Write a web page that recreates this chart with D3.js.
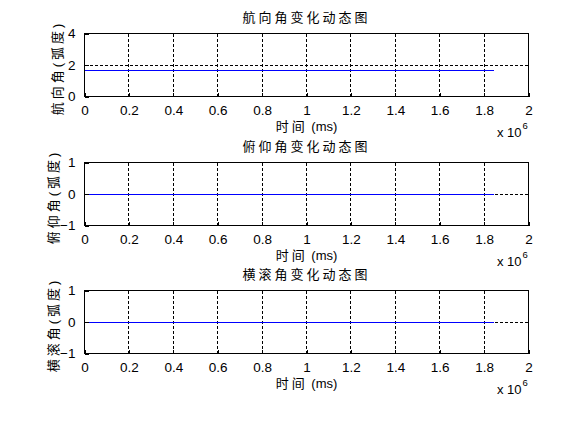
<!DOCTYPE html>
<html>
<head>
<meta charset="utf-8">
<script src="https://cdn.jsdelivr.net/npm/d3@7"></script>
<style>
  body { margin: 0; background: #fff; }
  text { font-family: "Liberation Sans", Arial, "Noto Sans CJK SC", sans-serif; fill: #000; }
  .cjk { font-family: "Liberation Sans", "Noto Sans CJK SC", sans-serif; letter-spacing: 3px; }
</style>
</head>
<body>
<div id="chart"></div>
<script>
// time samples (ms) and the three attitude angles (rad)
const timeMs = [0, 1845000];
const heading = [1.62, 1.62];
const pitch = [0, 0];
const roll = [0, 0];

const titles = ["航向角变化动态图", "俯仰角变化动态图", "横滚角变化动态图"];
const yLabels = ["航向角(弧度)", "俯仰角(弧度)", "横滚角(弧度)"];
const xLabelCjk = "时间";
const xLabelUnit = " (ms)";
const xTicks = [0, 0.2e6, 0.4e6, 0.6e6, 0.8e6, 1e6, 1.2e6, 1.4e6, 1.6e6, 1.8e6, 2e6];
const yTicksList = [[0, 2, 4], [-1, 0, 1], [-1, 0, 1]];
const yDomains = [[0, 4], [-1, 1], [-1, 1]];
const seriesList = [heading, pitch, roll];

const W = 582, H = 421;
const left = 84.5, right = 528.5, plotH = 63;
const tops = [33.5, 162.5, 290.5];

const svg = d3.select("#chart").append("svg")
  .attr("width", W).attr("height", H);

const x = d3.scaleLinear().domain([0, 2e6]).range([left, right]);

seriesList.forEach((vals, i) => {
  const top = tops[i], bottom = top + plotH;
  const y = d3.scaleLinear().domain(yDomains[i]).range([bottom, top]);
  const g = svg.append("g");

  // grid lines (dashed)
  g.selectAll(".gx").data(xTicks.slice(1, -1)).enter().append("line")
    .attr("x1", d => x(d)).attr("x2", d => x(d))
    .attr("y1", top).attr("y2", bottom)
    .attr("stroke", "#000").attr("stroke-dasharray", "3,2")
    .attr("shape-rendering", "crispEdges");
  g.selectAll(".gy").data(yTicksList[i].slice(1, -1)).enter().append("line")
    .attr("x1", left).attr("x2", right)
    .attr("y1", d => y(d)).attr("y2", d => y(d))
    .attr("stroke", "#000").attr("stroke-dasharray", "3,2")
    .attr("shape-rendering", "crispEdges");

  // data line
  const pts = timeMs.map((t, k) => [t, vals[k]]);
  g.append("path").datum(pts)
    .attr("fill", "none").attr("stroke", "#0000ff").attr("stroke-width", 1)
    .attr("shape-rendering", "crispEdges")
    .attr("d", d3.line().x(d => x(d[0])).y(d => y(d[1])));

  // axes (ticks pointing inward, labels outside)
  const xAxis = g.append("g").attr("transform", `translate(0,${bottom})`)
    .call(d3.axisBottom(x).tickValues(xTicks).tickSizeInner(-4).tickSizeOuter(0)
      .tickPadding(9).tickFormat(d => d3.format("~g")(d / 1e6)));
  const yAxis = g.append("g").attr("transform", `translate(${left},0)`)
    .call(d3.axisLeft(y).tickValues(yTicksList[i]).tickSizeInner(-4).tickSizeOuter(0)
      .tickPadding(9).tickFormat(d3.format("d")));
  [xAxis, yAxis].forEach(a => {
    a.select(".domain").remove();
    a.selectAll("line").attr("stroke", "#000").attr("shape-rendering", "crispEdges");
    a.selectAll("text").attr("font-size", 13.5)
      .attr("font-family", "'Liberation Sans', Arial, sans-serif");
  });

  // box
  g.append("rect")
    .attr("x", left).attr("y", top).attr("width", right - left).attr("height", plotH)
    .attr("fill", "none").attr("stroke", "#000").attr("shape-rendering", "crispEdges");

  const cx = (left + right) / 2;
  // title
  g.append("text").attr("class", "cjk")
    .attr("x", cx).attr("y", top - 16.5)
    .attr("text-anchor", "middle").attr("dominant-baseline", "central")
    .attr("font-size", 13).text(titles[i]);
  // x label
  const xl = g.append("text")
    .attr("x", cx).attr("y", bottom + 29)
    .attr("text-anchor", "middle").attr("dominant-baseline", "central")
    .attr("font-size", 13);
  xl.append("tspan").attr("class", "cjk").text(xLabelCjk);
  xl.append("tspan").text(xLabelUnit);
  // y label
  const ylx = i === 0 ? 57 : 53.5;
  const yly = top + plotH / 2 + 3;
  g.append("text").attr("class", "cjk")
    .attr("transform", `translate(${ylx},${yly}) rotate(-90)`)
    .attr("text-anchor", "middle").attr("dominant-baseline", "central")
    .attr("font-size", 13).text(yLabels[i]);
  // exponent label
  g.append("text")
    .attr("x", right - 7).attr("y", bottom + 36)
    .attr("text-anchor", "end").attr("dominant-baseline", "central")
    .attr("font-size", 13).text("x 10");
  g.append("text")
    .attr("x", right - 6).attr("y", bottom + 29)
    .attr("dominant-baseline", "central")
    .attr("font-size", 9.5).text("6");
});
</script>
</body>
</html>
